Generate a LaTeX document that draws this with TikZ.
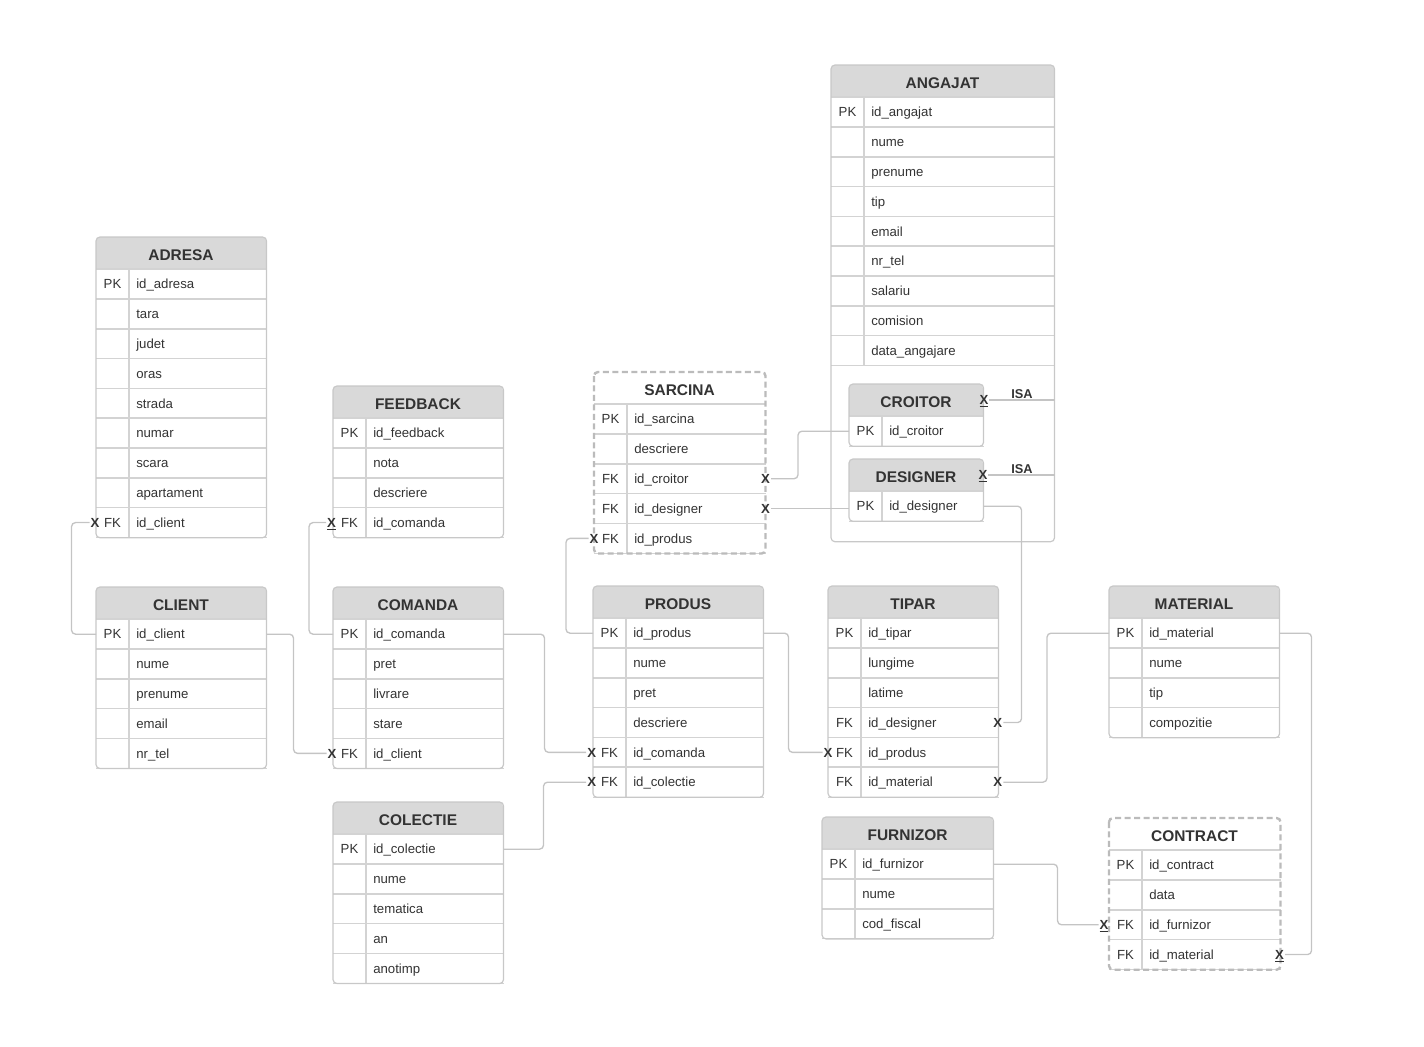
\documentclass[tikz,border=0pt]{standalone}
\usepackage{fontspec}
\setmainfont{Liberation Sans}
\usetikzlibrary{calc}

\definecolor{framegray}{HTML}{C8C8C8}
\definecolor{headgray}{HTML}{D9D9D9}
\definecolor{inkgray}{HTML}{333333}
\definecolor{linkgray}{HTML}{C4C4C4}
\definecolor{dashgray}{HTML}{BBBBBB}

\tikzset{
	tabframe/.style={draw=framegray, line width=0.9pt},
	headfill/.style={fill=headgray},
	sepline/.style={draw=framegray!80, line width=0.8pt},
	tabrow/.style={inner sep=0pt, minimum height=22.35pt},
	headtext/.style={font=\bfseries\fontsize{11.6pt}{13pt}\selectfont, text=inkgray, inner sep=0pt, text height=8.4pt, text depth=0pt, yshift=-1.4pt},
	keytext/.style={font=\fontsize{9.9pt}{12pt}\selectfont, text=inkgray, inner sep=0pt, text height=7.1pt, text depth=0pt},
	fieldtext/.style={keytext, anchor=west},
	xmark/.style={font=\bfseries\fontsize{9.9pt}{12pt}\selectfont, text=inkgray, inner sep=0.6pt, text height=7.1pt, text depth=0pt},
	isatext/.style={font=\bfseries\fontsize{9.6pt}{12pt}\selectfont, text=inkgray, inner sep=0pt},
	rel/.style={draw=linkgray, line width=1pt, rounded corners=3pt},
	weakent/.style={headfill/.style={fill=white}, tabframe/.style={draw=dashgray, line width=1.8pt, dash pattern=on 4.5pt off 2.6pt}}
}

% #1 options, #2 name, #3 left, #4 top, #5 width, #6 title, #7 key/field rows, #8 extra height
\newcommand{\erdtable}[8]{%
	\begin{scope}[#1]
		\coordinate (#2-nw) at (#3,#4);
		\coordinate (#2-he) at (#3+#5,#4+16);
		\begin{scope}
			\clip[rounded corners=3pt] (#2-nw) rectangle ++(#5,40);
			\fill[headfill] (#2-nw) rectangle ++(#5,32);
		\end{scope}
		\foreach \rkey/\rfield [count=\i] in {#7}{
			\node[tabrow, minimum width=#5*0.75pt, anchor=north west] (#2-\i) at (#3,#4+32+29.8*\i-29.8) {};
			\node[keytext] (#2-\i-k) at ($(#2-\i.west)+(16.5,0)$) {\rkey};
			\node[fieldtext] (#2-\i-f) at ($(#2-\i.west)+(40,0)$) {\rfield};
			\draw[sepline] (#2-\i.north west) -- (#2-\i.north east);
			\draw[sepline] (#2-\i.south west) -- (#2-\i.south east);
			\draw[sepline] ($(#2-\i.north west)+(33,0)$) -- ($(#2-\i.south west)+(33,0)$);
			\xdef\lastrow{\i}
		}
		\node[headtext] (#2) at (#3+#5/2,#4+16) {#6};
		\draw[tabframe, rounded corners=3pt] (#2-nw) rectangle ($(#2-\lastrow.south east)+(0,#8)$);
	\end{scope}
}

\begin{document}
\begin{tikzpicture}[x=0.75pt, y=-0.75pt]
	\useasboundingbox (0,0) rectangle (1424,1046);

	\erdtable{}{adresa}{96}{237}{170}{ADRESA}{PK/id\_adresa, /tara, /judet, /oras, /strada, /numar, /scara, /apartament, FK/id\_client}{0}
	\erdtable{}{client}{96}{587}{170}{CLIENT}{PK/id\_client, /nume, /prenume, /email, /nr\_tel}{0}
	\erdtable{}{feedback}{333}{386}{170}{FEEDBACK}{PK/id\_feedback, /nota, /descriere, FK/id\_comanda}{0}
	\erdtable{}{comanda}{333}{587}{170}{COMANDA}{PK/id\_comanda, /pret, /livrare, /stare, FK/id\_client}{0}
	\erdtable{}{colectie}{333}{802}{170}{COLECTIE}{PK/id\_colectie, /nume, /tematica, /an, /anotimp}{0}
	\erdtable{weakent}{sarcina}{594}{372}{171}{SARCINA}{PK/id\_sarcina, /descriere, FK/id\_croitor, FK/id\_designer, FK/id\_produs}{0}
	\erdtable{}{produs}{593}{586}{170}{PRODUS}{PK/id\_produs, /nume, /pret, /descriere, FK/id\_comanda, FK/id\_colectie}{0}
	\erdtable{}{tipar}{828}{586}{170}{TIPAR}{PK/id\_tipar, /lungime, /latime, FK/id\_designer, FK/id\_produs, FK/id\_material}{0}
	\erdtable{}{material}{1109}{586}{170}{MATERIAL}{PK/id\_material, /nume, /tip, /compozitie}{0}
	\erdtable{}{furnizor}{822}{817}{171}{FURNIZOR}{PK/id\_furnizor, /nume, /cod\_fiscal}{0}
	\erdtable{weakent}{contract}{1109}{818}{171}{CONTRACT}{PK/id\_contract, /data, FK/id\_furnizor, FK/id\_material}{0}
	\erdtable{}{angajat}{831}{65}{223}{ANGAJAT}{PK/id\_angajat, /nume, /prenume, /tip, /email, /nr\_tel, /salariu, /comision, /data\_angajare}{176}
	\erdtable{}{croitor}{849}{384}{134}{CROITOR}{PK/id\_croitor}{0}
	\erdtable{}{designer}{849}{459}{134}{DESIGNER}{PK/id\_designer}{0}

	\node[xmark] (x-adresa) at ($(adresa-9.west)+(-1,0)$) {X};
	\node[xmark] (x-feedback) at ($(feedback-4.west)+(-1.5,0)$) {\underline{X}};
	\node[xmark] (x-comanda) at ($(comanda-5.west)+(-1,0)$) {X};
	\node[xmark] (x-produs5) at ($(produs-5.west)+(-1.3,0)$) {X};
	\node[xmark] (x-produs6) at ($(produs-6.west)+(-1.3,0)$) {X};
	\node[xmark] (x-sarcina3) at (sarcina-3.east) {X};
	\node[xmark] (x-sarcina4) at (sarcina-4.east) {X};
	\node[xmark] (x-sarcina5) at (sarcina-5.west) {X};
	\node[xmark] (x-tipar4) at ($(tipar-4.east)+(-0.7,0)$) {X};
	\node[xmark] (x-tipar5) at (tipar-5.west) {X};
	\node[xmark] (x-tipar6) at ($(tipar-6.east)+(-0.7,0)$) {X};
	\node[xmark] (x-contract3) at ($(contract-3.west)+(-5,0)$) {\underline{X}};
	\node[xmark] (x-contract4) at ($(contract-4.east)+(-1,0)$) {\underline{X}};
	\node[xmark] (x-croitor) at ($(croitor-he)+(1,0)$) {\underline{X}};
	\node[xmark] (x-designer) at (designer-he) {\underline{X}};

	\draw[rel] (x-adresa.west) -- ++(-18,0) |- (client-1.west);
	\draw[rel] (x-feedback.west) -- ++(-17,0) |- (comanda-1.west);
	\draw[rel] (client-1.east) -- ++(27,0) |- (x-comanda.west);
	\draw[rel] (comanda-1.east) -- ++(41,0) |- (x-produs5.west);
	\draw[rel] (colectie-1.east) -- ++(40,0) |- (x-produs6.west);
	\draw[rel] (produs-1.west) -- ++(-27,0) |- (x-sarcina5.west);
	\draw[rel] (x-sarcina3.east) -- ++(27,0) |- (croitor-1.west);
	\draw[rel] (x-sarcina4.east) -- (x-sarcina4.east -| designer-1.west);
	\draw[rel] (designer-1.east) -- ++(38,0) |- (x-tipar4.east);
	\draw[rel] (produs-1.east) -- ++(25,0) |- (x-tipar5.west);
	\draw[rel] (material-1.west) -- ++(-62,0) |- (x-tipar6.east);
	\draw[rel] (material-1.east) -- ++(32,0) |- (x-contract4.east);
	\draw[rel] (furnizor-1.east) -- ++(64,0) |- (x-contract3.west);
	\draw[rel] (x-croitor.east) -- (x-croitor.east -| angajat-1.east);
	\draw[rel] (x-designer.east) -- (x-designer.east -| angajat-1.east);

	\node[isatext] (isa-croitor) at (1022,394.5) {ISA};
	\node[isatext] (isa-designer) at (1022,469.5) {ISA};
\end{tikzpicture}
\end{document}
